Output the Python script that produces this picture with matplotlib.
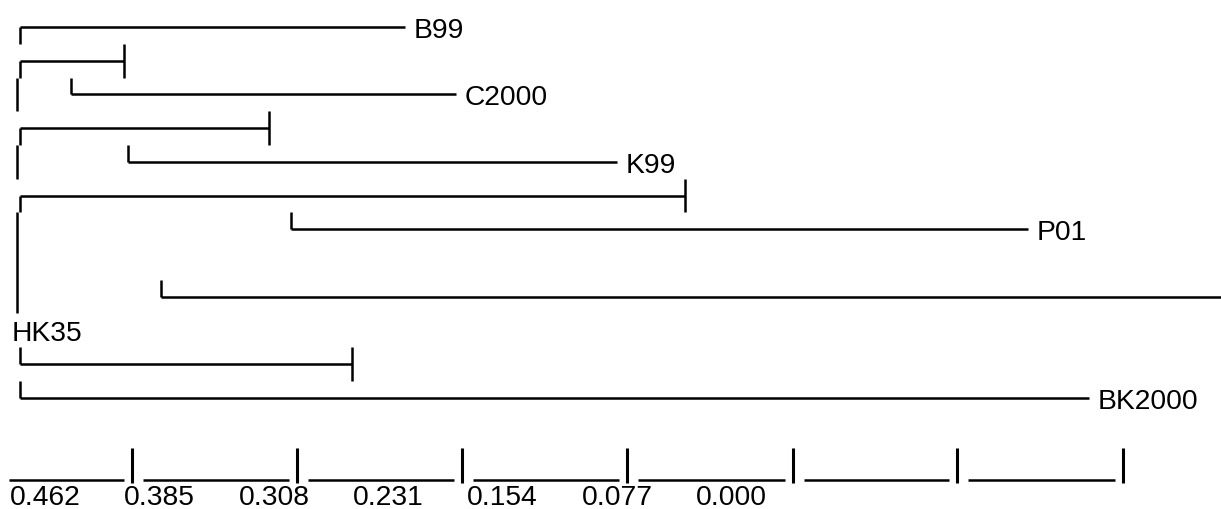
import matplotlib.pyplot as plt

plt.rcParams['font.family'] = ['Liberation Sans', 'DejaVu Sans']

# dendrogram rows (top to bottom), branch start / end along the distance axis
branch_row = [0, 1, 2, 3, 4, 5, 6, 8, 10, 11]
branch_start = [20, 20, 71, 20, 128, 20, 291, 161, 20, 20]
branch_end = [405, 124, 456, 269, 617, 685, 1028, 1221, 352, 1089]
# corner type at the start: 'top' (┌) or 'bot' (└); end tick (┤) or not
branch_corner = ['top', 'top', 'bot', 'top', 'bot', 'top', 'bot', 'bot', 'bot', 'bot']
branch_tick = [False, True, False, True, False, True, False, False, True, False]

leaf_names = ['B99', 'C2000', 'K99', 'P01', 'BK2000']
leaf_rows = [0, 2, 4, 6, 11]
root_name = 'HK35'
root_row = 9

# vertical "│" runs on the left (row from, row to)
trunk_from = [1.5, 3.5, 5.5]
trunk_to = [2.5, 4.5, 8.5]

# scale bar
scale_labels = ['0.462', '0.385', '0.308', '0.231', '0.154', '0.077', '0.000']
scale_bars = [132, 297, 462, 627, 793, 957, 1123]

row0, row_h = 28, 33.7
half = row_h / 2


def ry(r):
    return row0 + row_h * r


fig = plt.figure(figsize=(12.21, 5.10), dpi=100)
ax = fig.add_axes([0, 0, 1, 1])
ax.set_xlim(0, 1221)
ax.set_ylim(510, 0)
ax.axis('off')

kw = dict(color='black', lw=1.8, solid_capstyle='butt')

for r, x0, x1, c, t in zip(branch_row, branch_start, branch_end, branch_corner, branch_tick):
    y = ry(r)
    ax.plot([x0, x1], [y, y], **kw)
    if c == 'top':
        ax.plot([x0, x0], [y, y + half], **kw)
    else:
        ax.plot([x0, x0], [y - half, y], **kw)
    if t:
        ax.plot([x1, x1], [y - half, y + half], **kw)

for a, b in zip(trunk_from, trunk_to):
    ax.plot([17.3, 17.3], [ry(a), ry(b)], **kw)

for name, r in zip(leaf_names, leaf_rows):
    x1 = branch_end[branch_row.index(r)]
    ax.text(x1 + 9, ry(r) + 10, name, fontsize=20.3, va='baseline', ha='left')

ax.text(12, ry(root_row) + 10, root_name, fontsize=20.3, va='baseline', ha='left')

# scale: underscores between bars
prev = 9
for bx in scale_bars:
    ax.plot([prev, bx - 8], [481, 481], **kw)
    ax.plot([bx, bx], [449, 484], color='black', lw=2.2, solid_capstyle='butt')
    prev = bx + 11

for i, lab in enumerate(scale_labels):
    ax.text(10 + 114.3 * i, 505, lab, fontsize=20.3, va='baseline', ha='left')

fig.savefig('out.png', dpi=100)
